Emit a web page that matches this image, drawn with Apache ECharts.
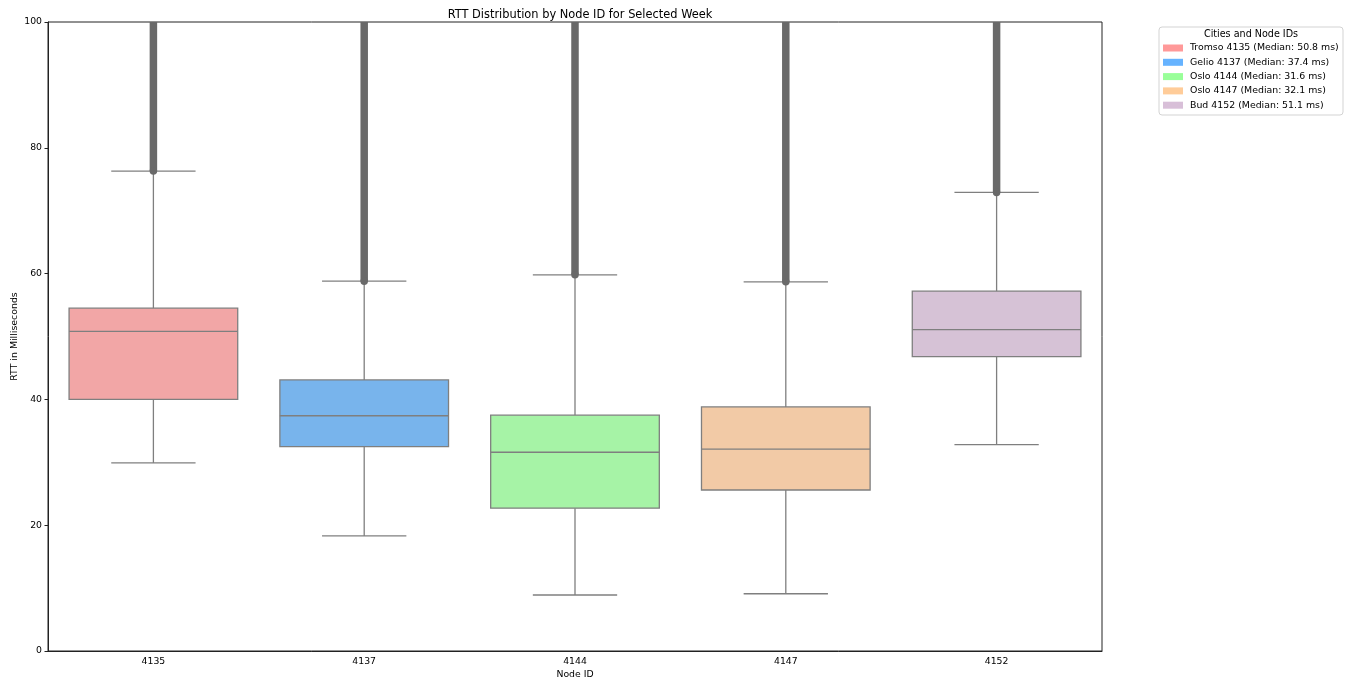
<!DOCTYPE html>
<html>
<head>
<meta charset="utf-8">
<title>RTT Distribution by Node ID</title>
<script src="https://cdn.jsdelivr.net/npm/echarts@6/dist/echarts.min.js"></script>
<style>
  html, body { margin: 0; padding: 0; background: #fff; }
  #chart { width: 1354px; height: 684px; }
</style>
</head>
<body>
<div id="chart"></div>
<script>
// Node IDs and the city each probe sits in
const nodes = ['4135', '4137', '4144', '4147', '4152'];
const cities = ['Tromso', 'Gelio', 'Oslo', 'Oslo', 'Bud'];

// Box statistics per node (ms)
const medians = [50.8, 37.4, 31.6, 32.1, 51.1];
const q1 = [40.0, 32.5, 22.7, 25.6, 46.8];
const q3 = [54.5, 43.1, 37.5, 38.8, 57.2];
const whiskerLow = [29.9, 18.3, 8.9, 9.1, 32.8];
const whiskerHigh = [76.3, 58.8, 59.8, 58.7, 72.9];

// Outliers form a continuous run from just above the upper whisker to the top of the view
const outlierLow = [76.3, 58.8, 59.8, 58.7, 72.9];
const outlierHigh = [100, 100, 100, 100, 100];

// Y axis ticks
const yTicks = [0, 20, 40, 60, 80, 100];

// Palette: legend swatches and the (desaturated) box fills
const legendColors = ['#ff9999', '#66b3ff', '#99ff99', '#ffcc99', '#d8bfd8'];
const boxColors = ['#f2a6a6', '#78b4ec', '#a6f3a6', '#f2caa6', '#d6c2d6'];
const lineColor = '#7f7f7f';
const outlierColor = '#696969';

const FONT = 'DejaVu Sans';

const seriesNames = nodes.map((n, i) =>
  `${cities[i]} ${n} (Median: ${medians[i].toFixed(1)} ms)`);

function makeRender(i) {
  return function (params, api) {
    const x = api.value(0);
    const band = api.size([1, 0])[0];
    const boxW = band * 0.8;
    const capW = band * 0.4;
    const c = api.coord([x, 0])[0];
    const y = v => api.coord([x, v])[1];

    const yMin = y(api.value(1)), yQ1 = y(api.value(2)), yMed = y(api.value(3));
    const yQ3 = y(api.value(4)), yMax = y(api.value(5));
    const yOutLo = y(api.value(6)), yOutHi = y(api.value(7));
    const lineStyle = { stroke: lineColor, lineWidth: 1.3, fill: null };
    const colW = 7.5;

    return {
      type: 'group',
      children: [
        // lower whisker + cap
        { type: 'line', shape: { x1: c, y1: yQ1, x2: c, y2: yMin }, style: lineStyle },
        { type: 'line', shape: { x1: c - capW / 2, y1: yMin, x2: c + capW / 2, y2: yMin }, style: lineStyle },
        // upper whisker + cap
        { type: 'line', shape: { x1: c, y1: yQ3, x2: c, y2: yMax }, style: lineStyle },
        { type: 'line', shape: { x1: c - capW / 2, y1: yMax, x2: c + capW / 2, y2: yMax }, style: lineStyle },
        // box
        { type: 'rect', shape: { x: c - boxW / 2, y: yQ3, width: boxW, height: yQ1 - yQ3 },
          style: { fill: boxColors[i], stroke: lineColor, lineWidth: 1.3 } },
        // median
        { type: 'line', shape: { x1: c - boxW / 2, y1: yMed, x2: c + boxW / 2, y2: yMed }, style: lineStyle },
        // outlier run
        { type: 'rect', shape: { x: c - colW / 2, y: yOutHi, width: colW, height: yOutLo - yOutHi },
          style: { fill: outlierColor } },
        { type: 'circle', shape: { cx: c, cy: yOutLo, r: colW / 2 }, style: { fill: outlierColor } }
      ]
    };
  };
}

const series = nodes.map((n, i) => ({
  name: seriesNames[i],
  type: 'custom',
  itemStyle: { color: legendColors[i] },
  renderItem: makeRender(i),
  encode: { x: 0, y: [1, 2, 3, 4, 5, 6, 7] },
  data: [[i, whiskerLow[i], q1[i], medians[i], q3[i], whiskerHigh[i], outlierLow[i], outlierHigh[i]]],
  z: 2
}));

const chart = echarts.init(document.getElementById('chart'), null, { renderer: 'canvas' });
chart.setOption({
  animation: false,
  backgroundColor: '#fff',
  textStyle: { fontFamily: FONT },
  title: {
    text: 'RTT Distribution by Node ID for Selected Week',
    left: 575, top: 5, textAlign: 'center',
    textStyle: { fontFamily: FONT, fontSize: 11.4, fontWeight: 'normal', color: '#000' }
  },
  grid: {
    left: 48, right: 252, top: 22, bottom: 33,
    outerBoundsMode: 'none', containLabel: false,
    show: true, borderColor: '#222', borderWidth: 1, backgroundColor: 'transparent'
  },
  xAxis: {
    type: 'category',
    data: nodes,
    name: 'Node ID', nameLocation: 'middle', nameGap: 19,
    nameMoveOverlap: false,
    nameTextStyle: { fontFamily: FONT, fontSize: 9.3, color: '#000' },
    axisLine: { lineStyle: { color: '#222', width: 1 } },
    axisTick: { alignWithLabel: true, length: 3.5, lineStyle: { color: '#222' } },
    axisLabel: { fontFamily: FONT, fontSize: 9.3, color: '#000', margin: 6 },
    splitLine: { show: false }
  },
  yAxis: {
    type: 'value',
    min: yTicks[0], max: yTicks[yTicks.length - 1], interval: 20,
    name: 'RTT in Milliseconds', nameLocation: 'middle', nameGap: 29,
    nameMoveOverlap: false,
    nameTextStyle: { fontFamily: FONT, fontSize: 9.4, color: '#000' },
    axisLine: { show: true, lineStyle: { color: '#222', width: 1 } },
    axisTick: { show: true, length: 3.5, lineStyle: { color: '#222' } },
    axisLabel: { fontFamily: FONT, fontSize: 9.3, color: '#000', margin: 6 },
    splitLine: { show: false }
  },
  legend: {
    orient: 'vertical',
    left: 1159, top: 40,
    padding: [2, 4, 2, 4],
    icon: 'rect', itemWidth: 20, itemHeight: 7, itemGap: 2.3,
    textStyle: { fontFamily: FONT, fontSize: 9.4, color: '#000', lineHeight: 12, padding: [0, 0, 0, 2] },
    data: seriesNames.map((nm, i) => ({ name: nm, itemStyle: { color: legendColors[i] } })),
    z: 10
  },
  graphic: [
    {
      type: 'rect', x: 1159, y: 27, z: 1,
      shape: { width: 184, height: 88, r: 3 },
      style: { fill: 'rgba(255,255,255,0.8)', stroke: '#d3d3d3', lineWidth: 1 }
    },
    {
      type: 'text', x: 1251, y: 29, z: 2,
      style: { text: 'Cities and Node IDs', fontFamily: FONT, fontSize: 9.6, fill: '#000', align: 'center', verticalAlign: 'top' }
    }
  ],
  series: series
});
</script>
</body>
</html>
